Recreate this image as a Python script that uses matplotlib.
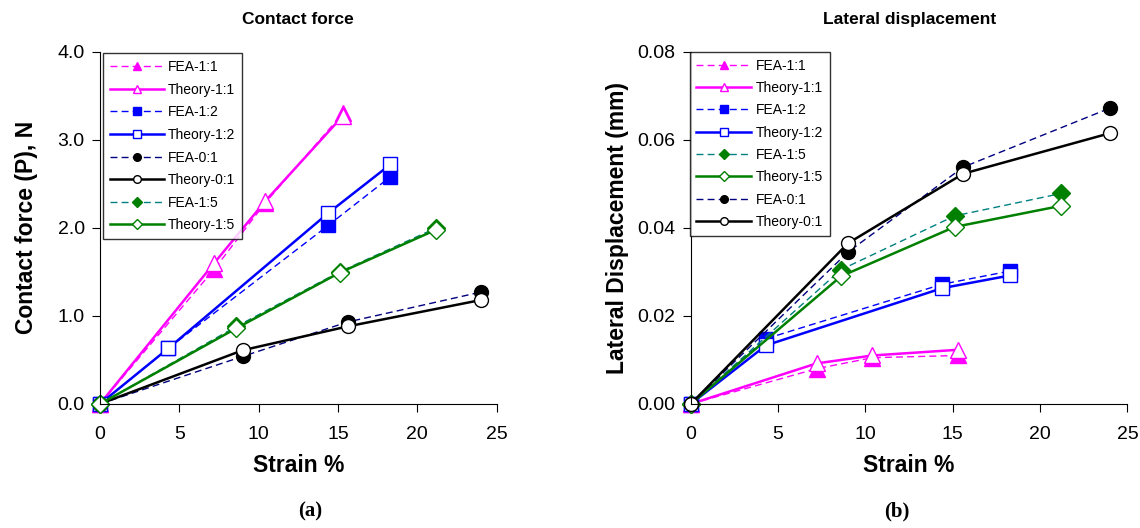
import matplotlib.pyplot as plt
from matplotlib.ticker import FormatStrFormatter

plt.rcParams['font.family'] = ['Liberation Sans', 'DejaVu Sans']

# strain values (%) per aspect ratio
strain_11 = [0, 7.2, 10.4, 15.3]
strain_12 = [0, 4.3, 14.4, 18.3]
strain_15 = [0, 8.6, 15.1, 21.2]
strain_01 = [0, 9.0, 15.6, 24.0]

# contact force, N
force_fea_11 = [0, 1.53, 2.28, 3.30]
force_th_11 = [0, 1.60, 2.30, 3.27]
force_fea_12 = [0, 0.63, 2.03, 2.58]
force_th_12 = [0, 0.63, 2.17, 2.72]
force_fea_01 = [0, 0.54, 0.93, 1.27]
force_th_01 = [0, 0.61, 0.88, 1.18]
force_fea_15 = [0, 0.88, 1.50, 2.00]
force_th_15 = [0, 0.86, 1.49, 1.98]

# lateral displacement, mm
disp_fea_11 = [0, 0.0080, 0.0105, 0.0110]
disp_th_11 = [0, 0.0092, 0.0110, 0.0123]
disp_fea_12 = [0, 0.0148, 0.0272, 0.0302]
disp_th_12 = [0, 0.0133, 0.0263, 0.0292]
disp_fea_15 = [0, 0.0305, 0.0427, 0.0478]
disp_th_15 = [0, 0.0290, 0.0402, 0.0450]
disp_fea_01 = [0, 0.0345, 0.0538, 0.0672]
disp_th_01 = [0, 0.0365, 0.0523, 0.0615]

fig = plt.figure(figsize=(11.4, 5.28), dpi=100)
ax1 = fig.add_axes([0.0877, 0.235, 0.348, 0.667])
ax2 = fig.add_axes([0.606, 0.235, 0.383, 0.667])


def fea(ax, x, y, color, mcolor, marker, label, ms=10):
    ax.plot(x, y, ls='--', lw=1.0, color=color, marker=marker, ms=ms,
            mfc=mcolor, mec=mcolor, label=label, dashes=(5, 3))


def theory(ax, x, y, color, marker, label, ms=10):
    ax.plot(x, y, ls='-', lw=1.8, color=color, marker=marker, ms=ms,
            mfc='white', mec=color, mew=1.0, label=label)


# (a) contact force
fea(ax1, strain_11, force_fea_11, '#FF00FF', '#FF00FF', '^', 'FEA-1:1', ms=11)
theory(ax1, strain_11, force_th_11, '#FF00FF', '^', 'Theory-1:1', ms=11)
fea(ax1, strain_12, force_fea_12, '#0000FF', '#0000FF', 's', 'FEA-1:2')
theory(ax1, strain_12, force_th_12, '#0000FF', 's', 'Theory-1:2')
fea(ax1, strain_01, force_fea_01, '#000080', 'black', 'o', 'FEA-0:1')
theory(ax1, strain_01, force_th_01, 'black', 'o', 'Theory-0:1')
fea(ax1, strain_15, force_fea_15, '#008080', '#008000', 'D', 'FEA-1:5', ms=9)
theory(ax1, strain_15, force_th_15, '#008000', 'D', 'Theory-1:5', ms=9)

# (b) lateral displacement
fea(ax2, strain_11, disp_fea_11, '#FF00FF', '#FF00FF', '^', 'FEA-1:1', ms=11)
theory(ax2, strain_11, disp_th_11, '#FF00FF', '^', 'Theory-1:1', ms=11)
fea(ax2, strain_12, disp_fea_12, '#0000FF', '#0000FF', 's', 'FEA-1:2')
theory(ax2, strain_12, disp_th_12, '#0000FF', 's', 'Theory-1:2')
fea(ax2, strain_15, disp_fea_15, '#008080', '#008000', 'D', 'FEA-1:5', ms=9)
theory(ax2, strain_15, disp_th_15, '#008000', 'D', 'Theory-1:5', ms=9)
fea(ax2, strain_01, disp_fea_01, '#000080', 'black', 'o', 'FEA-0:1')
theory(ax2, strain_01, disp_th_01, 'black', 'o', 'Theory-0:1')

ax1.set_ylim(0, 4.0)
ax1.set_yticks([0, 1, 2, 3, 4])
ax1.yaxis.set_major_formatter(FormatStrFormatter('%.1f'))
ax2.set_ylim(0, 0.08)
ax2.set_yticks([0, 0.02, 0.04, 0.06, 0.08])
ax2.yaxis.set_major_formatter(FormatStrFormatter('%.2f'))

for ax in (ax1, ax2):
    ax.set_xlim(0, 25)
    ax.set_xticks([0, 5, 10, 15, 20, 25])
    ax.spines['top'].set_visible(False)
    ax.spines['right'].set_visible(False)
    ax.tick_params(direction='out', length=6, labelsize=14)
    ax.tick_params(axis='x', pad=10)
    ax.tick_params(axis='y', pad=5)
    ax.set_xlabel('Strain %', fontsize=16.5, fontweight='bold', labelpad=8)
    for line in ax.get_lines():
        line.set_clip_on(False)

leg1 = ax1.legend(loc='upper left', bbox_to_anchor=(0.005, 1.0), fontsize=10,
                  markerscale=0.55, frameon=True, fancybox=False,
                  edgecolor='black', handlelength=3.9, labelspacing=0.62,
                  borderpad=0.5, borderaxespad=0.1, handletextpad=0.25)
leg2 = ax2.legend(loc='upper left', bbox_to_anchor=(-0.003, 1.0), fontsize=10,
                  markerscale=0.55, frameon=True, fancybox=False,
                  edgecolor='black', handlelength=3.9, labelspacing=0.6,
                  borderpad=0.5, borderaxespad=0.0, handletextpad=0.35)
for leg in (leg1, leg2):
    leg.get_frame().set_linewidth(1.0)

ax1.set_ylabel('Contact force (P), N', fontsize=16.5, fontweight='bold', labelpad=14)
ax2.set_ylabel('Lateral Displacement (mm)', fontsize=16.5, fontweight='bold', labelpad=6)
ax1.set_title('Contact force', fontsize=12.5, fontweight='bold', pad=20)
ax2.set_title('Lateral displacement', fontsize=12.5, fontweight='bold', pad=20)

fig.text(0.272, 0.022, '(a)', fontsize=15, fontweight='bold',
         family='Liberation Serif', ha='center')
fig.text(0.787, 0.022, '(b)', fontsize=15, fontweight='bold',
         family='Liberation Serif', ha='center')

fig.savefig('out.png', dpi=100)
